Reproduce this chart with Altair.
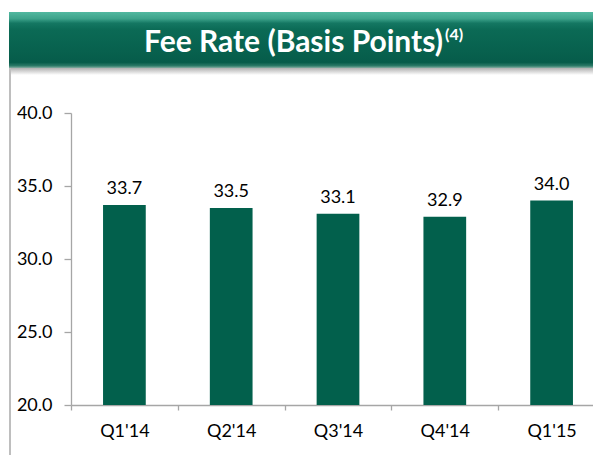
import altair as alt
import pandas as pd

quarters = ["Q1'14", "Q2'14", "Q3'14", "Q4'14", "Q1'15"]
fee_rate = [33.7, 33.5, 33.1, 32.9, 34.0]
y_ticks = [20, 25, 30, 35, 40]
title_main = "Fee Rate (Basis Points)"
title_sup = "(4)"

FONT = "Lato"
BAR = "#02604C"
AX = "#A6A6A6"
STEP = 534 / 5

df = pd.DataFrame({"q": quarters, "v": fee_rate})
one = pd.DataFrame({"t": [title_main], "s": [title_sup]})

x = alt.X(
    "q:N", sort=quarters, title=None,
    scale=alt.Scale(range=[0, 534], paddingInner=0.6, paddingOuter=0.3),
    axis=alt.Axis(labelAngle=0, labelFontSize=18, labelColor="black", labelFont=FONT,
                  domainColor=AX, tickColor=AX, tickSize=5,
                  tickOffset=-STEP / 2, labelOffset=STEP / 2,
                  labelPadding=12, domainWidth=1.3, tickWidth=1.3),
)
y = alt.Y(
    "v:Q", title=None,
    scale=alt.Scale(domain=[20, 40], nice=False, zero=False),
    axis=alt.Axis(values=y_ticks, format=".1f", labelFontSize=18, labelColor="black",
                  labelFont=FONT, labelPadding=12, tickSize=7, grid=False,
                  domainColor=AX, tickColor=AX, domainWidth=1.3, tickWidth=1.3),
)

bars = alt.Chart(df).mark_bar(color=BAR).encode(x=x, y=y, y2=alt.datum(20))
labels = alt.Chart(df).mark_text(
    baseline="alphabetic", dy=-11, fontSize=18, font=FONT, color="black"
).encode(x=x, y=y, text=alt.Text("v:Q", format=".1f"))

banner_grad = alt.LinearGradient(
    gradient="linear", x1=0, x2=0, y1=0, y2=1,
    stops=[
        alt.GradientStop(offset=0, color="#52B8A0"),
        alt.GradientStop(offset=0.12, color="#3DA38B"),
        alt.GradientStop(offset=0.2, color="#147762"),
        alt.GradientStop(offset=0.32, color="#0B6A55"),
        alt.GradientStop(offset=0.9, color="#065C4A"),
        alt.GradientStop(offset=0.96, color="#2B7A67"),
        alt.GradientStop(offset=1, color="#86AEA3"),
    ],
)
banner = alt.Chart(one).mark_rect(color=banner_grad).encode(
    x=alt.value(-62), x2=alt.value(540), y=alt.value(-101), y2=alt.value(-45)
)
shadow_grad = alt.LinearGradient(
    gradient="linear", x1=0, x2=0, y1=0, y2=1,
    stops=[alt.GradientStop(offset=0, color="#B0B0B0"),
           alt.GradientStop(offset=1, color="#FFFFFF")],
)
shadow = alt.Chart(one).mark_rect(color=shadow_grad).encode(
    x=alt.value(-60), x2=alt.value(540), y=alt.value(-45), y2=alt.value(-38)
)
border = alt.Chart(one).mark_rule(color="#A8A8A8", strokeWidth=1.5).encode(
    x=alt.value(-61), y=alt.value(-45), y2=alt.value(360)
)
t_main = alt.Chart(one).mark_text(
    align="right", baseline="alphabetic", fontSize=30, fontWeight="bold", font=FONT, color="white"
).encode(x=alt.value(372), y=alt.value(-61), text="t:N")
t_sup = alt.Chart(one).mark_text(
    align="left", baseline="alphabetic", fontSize=16, fontWeight="bold", font=FONT, color="white"
).encode(x=alt.value(374), y=alt.value(-73), text="s:N")

chart = alt.layer(banner, shadow, border, t_main, t_sup, bars, labels).properties(
    width=522, height=292,
    autosize=alt.AutoSizeParams(type="none"),
    padding={"left": 63, "top": 105, "right": 0, "bottom": 50},
).configure_view(stroke=None)

chart.save("out.html", embed_options={"renderer": "svg", "actions": False})
